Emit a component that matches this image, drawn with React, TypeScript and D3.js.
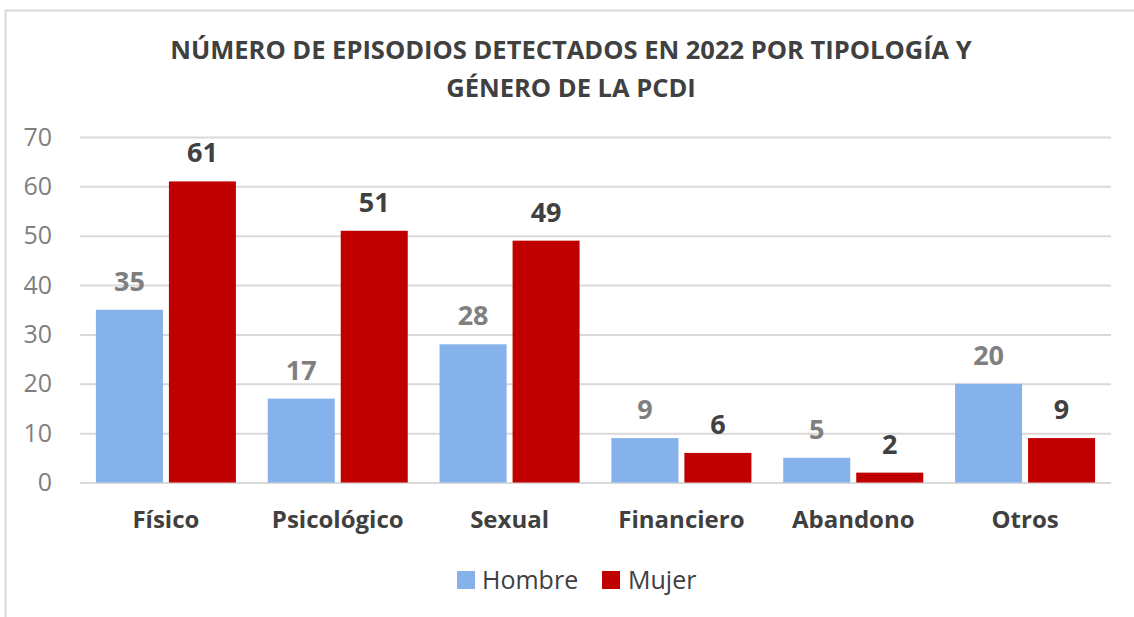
import { useEffect, useRef } from "react";
import * as d3 from "d3";

const categories = ["Físico", "Psicológico", "Sexual", "Financiero", "Abandono", "Otros"];
const seriesNames = ["Hombre", "Mujer"];
const hombre = [35, 17, 28, 9, 5, 20];
const mujer = [61, 51, 49, 6, 2, 9];
const yTicks = [0, 10, 20, 30, 40, 50, 60, 70];

const width = 1134;
const height = 617;
const marginLeft = 80;
const marginRight = 23;
const plotTop = 137;
const plotBottom = 482.5;

const barColors = ["#86B2EB", "#C00000"];
const labelColors = ["#7F7F7F", "#404040"];
const font = "'Open Sans', sans-serif";

const App = () => {
  const ref = useRef<SVGGElement>(null);

  const x0 = d3
    .scaleBand()
    .domain(categories)
    .range([marginLeft, width - marginRight])
    .padding(0);

  // two bars per category, small gap between them
  const x1 = d3
    .scaleBand()
    .domain(seriesNames)
    .range([0, x0.bandwidth()])
    .paddingInner(0.082)
    .paddingOuter(0.218);

  const y = d3.scaleLinear().domain([0, 70]).range([plotBottom, plotTop]);

  const rows = categories.map((c, i) => ({ cat: c, values: [hombre[i], mujer[i]] }));

  useEffect(() => {
    const g = d3.select(ref.current);
    const axis = d3
      .axisLeft(y)
      .tickValues(yTicks)
      .tickSize(-(width - marginRight - marginLeft))
      .tickPadding(28);
    g.call(axis as any);
    g.select(".domain").remove();
    g.selectAll(".tick line").attr("stroke", "#D9D9D9").attr("stroke-width", 2);
    g.selectAll(".tick text")
      .attr("x", -28)
      .attr("font-family", font)
      .attr("font-size", 25)
      .attr("fill", "#7F7F7F");
  }, []);

  return (
    <svg
      width={width}
      height={height}
      style={{ position: "absolute", left: 0, top: 0, background: "#fff" }}
    >
      <rect x={5.5} y={10.5} width={width + 20} height={height + 20} fill="#fff" stroke="#D9D9D9" strokeWidth={2} />
      <text x={571} y={59} textAnchor="middle" fontFamily={font} fontWeight="bold" fontSize={25.5} fill="#404040">
        NÚMERO DE EPISODIOS DETECTADOS EN 2022 POR TIPOLOGÍA Y
      </text>
      <text x={571} y={97} textAnchor="middle" fontFamily={font} fontWeight="bold" fontSize={25.5} fill="#404040">
        GÉNERO DE LA PCDI
      </text>
      <g ref={ref} transform={`translate(${marginLeft},0)`}></g>
      {rows.map((r) => (
        <g key={r.cat} transform={`translate(${x0(r.cat)},0)`}>
          {r.values.map((v, j) => (
            <rect
              key={seriesNames[j]}
              x={x1(seriesNames[j])}
              y={y(v)}
              width={x1.bandwidth()}
              height={y(0) - y(v)}
              fill={barColors[j]}
            />
          ))}
          {r.values.map((v, j) => (
            <text
              key={"l" + seriesNames[j]}
              x={(x1(seriesNames[j]) as number) + x1.bandwidth() / 2}
              y={y(v) - 19}
              textAnchor="middle"
              fontFamily={font}
              fontWeight="bold"
              fontSize={27}
              fill={labelColors[j]}
            >
              {v}
            </text>
          ))}
          <text
            x={x0.bandwidth() / 2}
            y={528}
            textAnchor="middle"
            fontFamily={font}
            fontWeight="bold"
            fontSize={24}
            fill="#404040"
          >
            {r.cat}
          </text>
        </g>
      ))}
      <g transform="translate(457,571)">
        <rect x={0} y={0} width={18} height={18} fill={barColors[0]} />
        <text x={25} y={18} fontFamily={font} fontSize={25} fill="#404040">Hombre</text>
        <rect x={145} y={0} width={18} height={18} fill={barColors[1]} />
        <text x={171} y={18} fontFamily={font} fontSize={25} fill="#404040">Mujer</text>
      </g>
    </svg>
  );
};

export default App;
